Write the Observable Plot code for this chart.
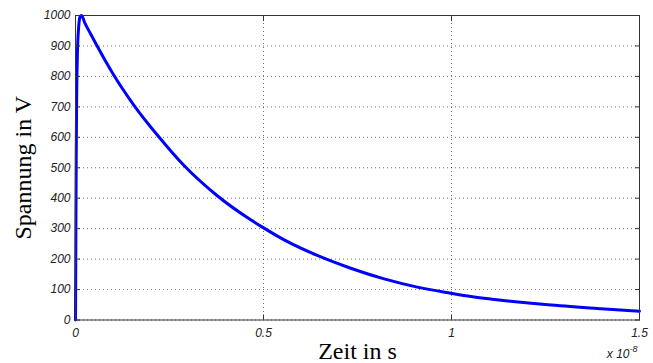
<!DOCTYPE html>
<html>
<head>
<meta charset="utf-8">
<script src="https://cdn.jsdelivr.net/npm/d3@7"></script>
<script src="https://cdn.jsdelivr.net/npm/@observablehq/plot@0.6"></script>
<style>
  html, body { margin: 0; padding: 0; background: #fff; }
  #chart g[aria-label$="tick label"] text { font-style: italic; }
  #chart g[aria-label="x-axis label"] text,
  #chart g[aria-label="y-axis label"] text {
    font-family: "Liberation Serif", "Times New Roman", serif;
    font-size: 24px;
    font-style: normal;
    fill: #000;
  }
</style>
</head>
<body>
<div id="chart"></div>
<script>
// Time axis in units of 1e-8 s, voltage in V
const timeE8 = [0, 0.001, 0.002, 0.003, 0.005, 0.008, 0.012, 0.016, 0.025, 0.040, 0.070, 0.098,
  0.155, 0.222, 0.288, 0.377, 0.466, 0.497, 0.555, 0.643, 0.732, 0.821, 0.909, 0.998,
  1.052, 1.132, 1.265, 1.398, 1.5];
const voltage = [0, 290, 560, 720, 870, 955, 995, 1000, 975, 940, 872, 812,
  706, 601, 508, 408, 329, 305, 263, 212, 170, 135, 108, 88,
  77, 65, 49, 37, 29];

const xTicks = [0, 0.5, 1, 1.5];
const xTickLabels = ["0", "0.5", "1", "1.5"];
const yTicks = [0, 100, 200, 300, 400, 500, 600, 700, 800, 900, 1000];

const xLabel = "Zeit in s";
const yLabel = "Spannung in V";
const exponentBase = "x 10";
const exponent = "-8";

const pulse = timeE8.map((t, i) => ({t, v: voltage[i]}));

const tickFont = {fontFamily: "Liberation Sans, Arial, sans-serif", fontStyle: "italic", fontSize: 12, fill: "#222"};

const chart = Plot.plot({
  width: 653,
  height: 363,
  marginLeft: 75,
  marginRight: 14,
  marginTop: 15,
  marginBottom: 43.5,
  style: {background: "#fff", overflow: "visible"},
  x: {domain: [0, 1.5]},
  y: {domain: [0, 1000]},
  marks: [
    Plot.gridX(xTicks, {stroke: "#000", strokeOpacity: 0.55, strokeDasharray: "1,3"}),
    Plot.gridY(yTicks, {stroke: "#000", strokeOpacity: 0.55, strokeDasharray: "1,3"}),
    Plot.line(pulse, {x: "t", y: "v", stroke: "#0000ff", strokeWidth: 3, curve: "monotone-x"}),
    Plot.frame({stroke: "#333", strokeWidth: 1}),
    Plot.axisX({anchor: "bottom", ticks: xTicks, tickFormat: (d, i) => xTickLabels[i], tickSize: -5, tickPadding: 13,
      label: xLabel, labelAnchor: "center", labelOffset: 39, labelArrow: "none", stroke: "#333", ...tickFont}),
    Plot.axisX({anchor: "top", ticks: xTicks, tickFormat: () => "", tickSize: -5, label: null, stroke: "#333"}),
    Plot.axisY({anchor: "left", ticks: yTicks, tickFormat: d => String(d), tickSize: -5, tickPadding: 10,
      label: yLabel, labelAnchor: "center", labelOffset: 62, labelArrow: "none", stroke: "#333", ...tickFont}),
    Plot.axisY({anchor: "right", ticks: yTicks, tickFormat: () => "", tickSize: -5, label: null, stroke: "#333"}),
    Plot.text([exponentBase], {frameAnchor: "bottom-right", text: d => d, dx: -10, dy: 38, lineAnchor: "bottom", textAnchor: "end", ...tickFont}),
    Plot.text([exponent], {frameAnchor: "bottom-right", text: d => d, dx: -2, dy: 32, lineAnchor: "bottom", textAnchor: "end", ...tickFont, fontSize: 9})
  ]
});

document.getElementById("chart").appendChild(chart);
</script>
</body>
</html>
